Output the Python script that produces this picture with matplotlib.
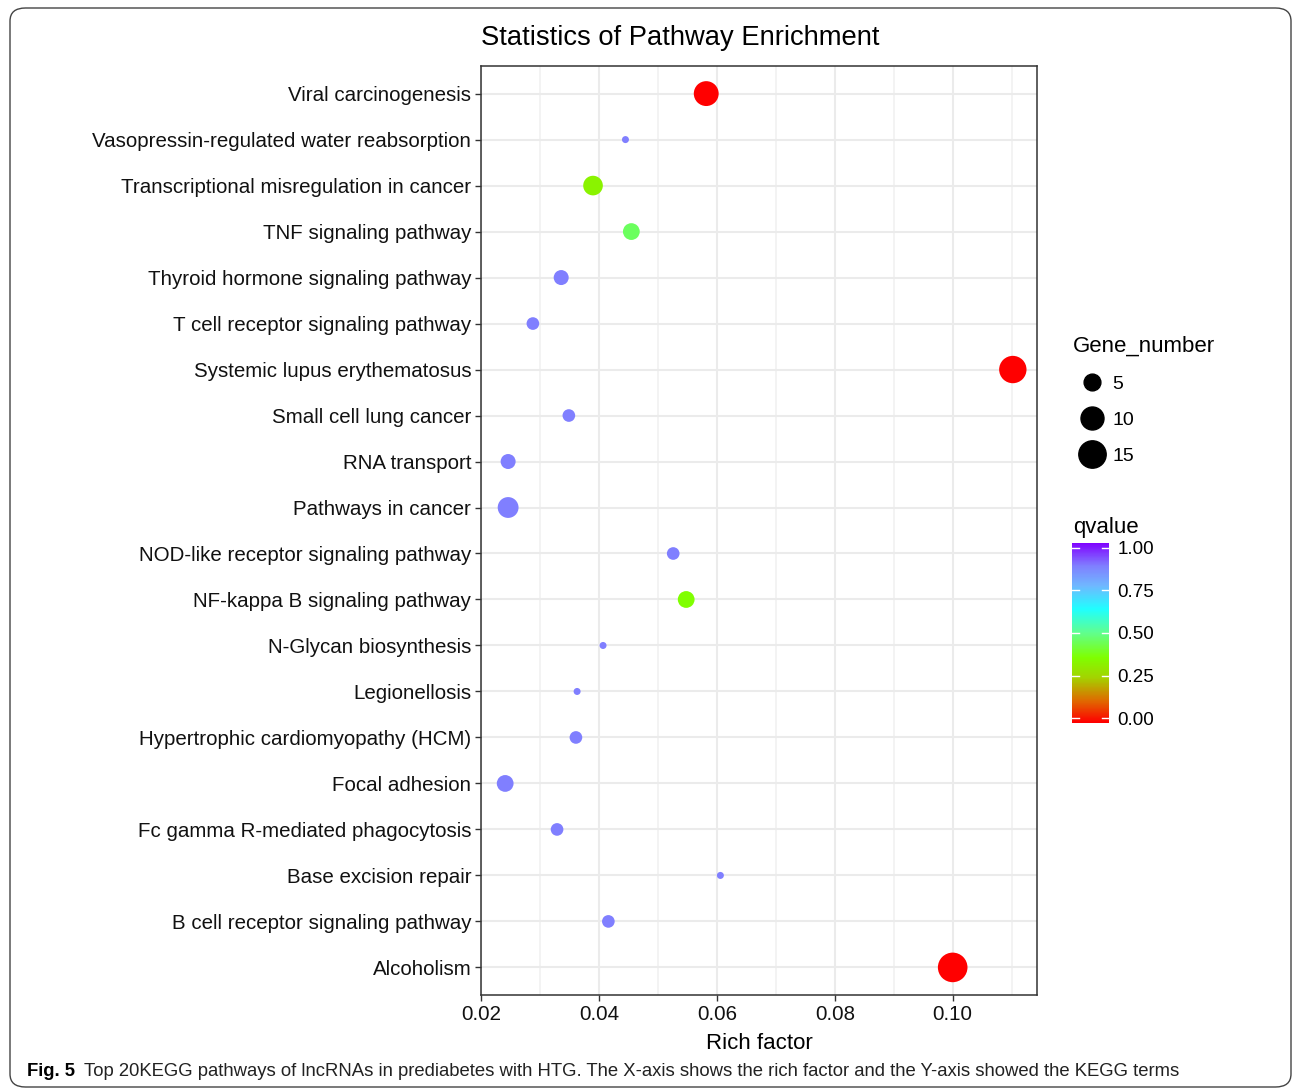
import numpy as np
import matplotlib
matplotlib.use("Agg")
import matplotlib.pyplot as plt
from matplotlib.colors import LinearSegmentedColormap
from matplotlib.lines import Line2D
from matplotlib.patches import FancyBboxPatch

plt.rcParams['font.family'] = ['Liberation Sans', 'DejaVu Sans']

# KEGG terms, listed top to bottom as shown on the y axis
pathways = [
    "Viral carcinogenesis",
    "Vasopressin-regulated water reabsorption",
    "Transcriptional misregulation in cancer",
    "TNF signaling pathway",
    "Thyroid hormone signaling pathway",
    "T cell receptor signaling pathway",
    "Systemic lupus erythematosus",
    "Small cell lung cancer",
    "RNA transport",
    "Pathways in cancer",
    "NOD-like receptor signaling pathway",
    "NF-kappa B signaling pathway",
    "N-Glycan biosynthesis",
    "Legionellosis",
    "Hypertrophic cardiomyopathy (HCM)",
    "Focal adhesion",
    "Fc gamma R-mediated phagocytosis",
    "Base excision repair",
    "B cell receptor signaling pathway",
    "Alcoholism",
]
rich_factor = [0.0582, 0.0445, 0.0390, 0.0455, 0.0336, 0.0288, 0.1102, 0.0349,
               0.0246, 0.0246, 0.0526, 0.0548, 0.0407, 0.0363, 0.0361, 0.0241,
               0.0329, 0.0606, 0.0416, 0.1000]
gene_number = [12, 2, 7, 5, 4, 3, 15, 3, 4, 8, 3, 5, 2, 2, 3, 5, 3, 2, 3, 18]
qvalue = [0.0, 0.87, 0.33, 0.45, 0.87, 0.87, 0.0, 0.87, 0.87, 0.87,
          0.87, 0.36, 0.87, 0.87, 0.87, 0.87, 0.87, 0.87, 0.87, 0.0]

legend_sizes = [5, 10, 15]
cbar_ticks = [0.0, 0.25, 0.5, 0.75, 1.0]

W, H, DPI = 1293, 1090, 100

# colour scale for qvalue
qcmap = LinearSegmentedColormap.from_list("qv", [
    (0.00, "#FF0000"),
    (0.12, "#E06A00"),
    (0.25, "#A4D400"),
    (0.36, "#80FF00"),
    (0.50, "#60FF90"),
    (0.63, "#20FFFF"),
    (0.76, "#70B8FF"),
    (0.87, "#8080FF"),
    (1.00, "#8000FF"),
])


def dot_area(n, nmin=2, nmax=18):
    # area scale: diameter grows with sqrt of rescaled gene count
    d_px = 7 + 22.6 * np.sqrt((np.asarray(n, float) - nmin) / (nmax - nmin))
    return (d_px * 72.0 / DPI) ** 2


fig = plt.figure(figsize=(W / DPI, H / DPI), dpi=DPI)

# rounded frame around the whole figure
frame = FancyBboxPatch((10 / W, 3 / H), 1281 / W, 1079 / H,
                       boxstyle="round,pad=0,rounding_size=0.012",
                       transform=fig.transFigure, fill=False,
                       edgecolor="#444444", linewidth=1.0)
fig.patches.append(frame)

ax = fig.add_axes([481 / W, 1 - 995 / H, 556 / W, 929 / H])
ypos = np.arange(len(pathways))[::-1]
ax.scatter(rich_factor, ypos, s=dot_area(gene_number), c=qvalue,
           cmap=qcmap, vmin=0, vmax=1, linewidths=0, zorder=3)

ax.set_xlim(0.0200, 0.1143)
ax.set_ylim(-0.6, len(pathways) - 0.4)
ax.set_xticks([0.02, 0.04, 0.06, 0.08, 0.10])
ax.set_xticklabels(["0.02", "0.04", "0.06", "0.08", "0.10"])
ax.set_xticks(np.arange(0.03, 0.115, 0.02), minor=True)
ax.set_yticks(ypos)
ax.set_yticklabels(pathways)
ax.grid(True, which="major", color="#EBEBEB", linewidth=1.5, zorder=0)
ax.grid(True, which="minor", axis="x", color="#F0F0F0", linewidth=1.1, zorder=0)
ax.set_axisbelow(True)
ax.tick_params(axis="both", which="major", length=4, width=1.0,
               color="#333333", labelsize=14.8, labelcolor="#111111", pad=3)
ax.tick_params(axis="x", which="minor", length=0)
for sp in ax.spines.values():
    sp.set_color("#333333")
    sp.set_linewidth(1.1)
ax.set_xlabel("Rich factor", fontsize=16, labelpad=7)
fig.text(481 / W, 1 - 38 / H, "Statistics of Pathway Enrichment",
         fontsize=19.7, ha="left", va="center")

# Gene_number size legend
handles = [Line2D([], [], linestyle="none", marker="o", color="black",
                  markersize=np.sqrt(dot_area(n))) for n in legend_sizes]
fig.legend(handles, [str(n) for n in legend_sizes], title="Gene_number",
           loc="upper left", bbox_to_anchor=(1057 / W, 1 - 320 / H),
           frameon=False, fontsize=14, title_fontsize=16,
           labelspacing=0.95, handletextpad=0.05, borderpad=0.3,
           alignment="left")

# qvalue colour bar
cax = fig.add_axes([1072 / W, 1 - 723 / H, 37 / W, 180 / H])
grad = np.linspace(0, 1, 300).reshape(-1, 1)
cax.imshow(grad, extent=[0, 1, -0.029, 1.029], origin="lower",
           aspect="auto", cmap=qcmap, vmin=0, vmax=1)
cax.set_xlim(0, 1)
cax.set_ylim(-0.029, 1.029)
for t in cbar_ticks:
    cax.plot([0, 0.2], [t, t], color="white", lw=1.0)
    cax.plot([0.8, 1], [t, t], color="white", lw=1.0)
cax.set_xticks([])
cax.set_yticks(cbar_ticks)
cax.set_yticklabels([f"{t:.2f}" for t in cbar_ticks])
cax.yaxis.tick_right()
cax.tick_params(axis="y", length=0, labelsize=13.5, pad=6)
for sp in cax.spines.values():
    sp.set_visible(False)
fig.text(1073 / W, 1 - 527 / H, "qvalue", fontsize=16, va="center", ha="left")

# figure caption
fig.text(27 / W, 1 - 1071 / H, "Fig. 5", fontsize=13.3, fontweight="bold",
         va="center", ha="left")
fig.text(84 / W, 1 - 1071 / H,
         "Top 20KEGG pathways of lncRNAs in prediabetes with HTG. "
         "The X-axis shows the rich factor and the Y-axis showed the KEGG terms",
         fontsize=13.3, va="center", ha="left", color="#222222")

fig.savefig("out.png", dpi=DPI)
